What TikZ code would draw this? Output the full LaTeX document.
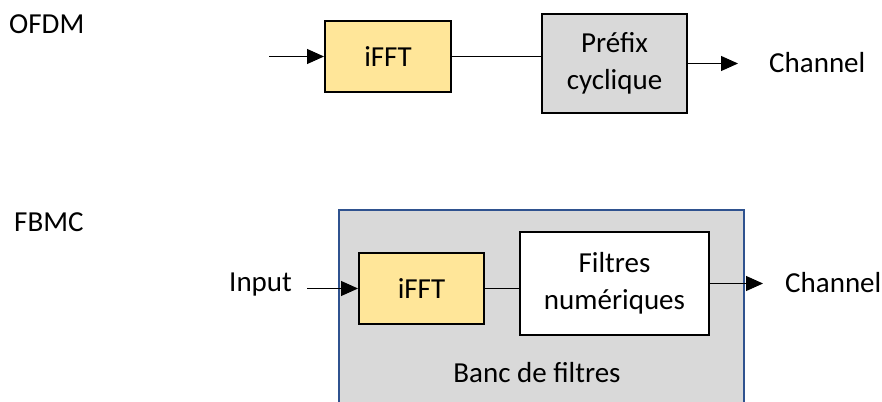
\documentclass[tikz,border=0pt]{standalone}
\usepackage{fontspec}
\setmainfont{Carlito}
\usetikzlibrary{arrows.meta}

\definecolor{blockyellow}{HTML}{FFE699}
\definecolor{blockgray}{HTML}{D9D9D9}
\definecolor{frameblue}{HTML}{2F528F}

\tikzset{
  label text/.style={font=\fontsize{29}{37}\selectfont, inner sep=0pt, align=center},
  block/.style={draw=black, line width=2pt, label text},
  yellowblock/.style={block, fill=blockyellow},
  grayblock/.style={block, fill=blockgray},
  whiteblock/.style={block, fill=white},
  link/.style={line width=1.1pt},
  flow/.style={link, -{Triangle[length=17pt,width=15pt]}},
}

\begin{document}
\begin{tikzpicture}[x=1pt,y=-1pt]
  \clip (0,0) rectangle (882,401);
  \fill[white] (0,0) rectangle (882,401);

  % ---------- OFDM chain ----------
  \node[label text, anchor=west] (ofdm) at (9,24) {OFDM};

  \coordinate (in1) at (269,56.5);
  \node[yellowblock, minimum width=126pt, minimum height=71pt] (i1) at (388,56.5) {iFFT};
  \node[grayblock, minimum width=145pt, minimum height=99pt] (p) at (614.5,63.5) {Préfix\\cyclique};
  \node[label text, anchor=west] (ch1) at (769,63) {Channel};

  \draw[flow] (in1) -- (i1.west);
  \draw[link] (i1.east) -- (i1.east -| p.west);
  \draw[flow, shorten >=31pt] (p.east) -- (p.east -| ch1.west);

  % ---------- FBMC chain ----------
  \node[label text, anchor=west] (fbmc) at (14,222) {FBMC};

  % filter bank frame (open at the bottom edge of the page)
  \node[draw=frameblue, line width=1.5pt, fill=blockgray, minimum width=405pt,
        minimum height=210pt, anchor=north west] (bank) at (338,209) {};
  \node[label text] (banklbl) at (537,373) {Banc de filtres};

  \node[label text, anchor=west] (inp) at (229,285) {Input};
  \node[yellowblock, minimum width=125pt, minimum height=71pt] (i2) at (421.5,288.5) {iFFT};
  \node[whiteblock, minimum width=189pt, minimum height=103pt] (f) at (614.5,283.5) {Filtres\\numériques};
  \node[label text, anchor=west] (ch2) at (785,283) {Channel};

  \draw[flow, shorten <=15pt] (inp.east |- i2.west) -- (i2.west);
  \draw[link] (i2.east) -- (i2.east -| f.west);
  \draw[flow, shorten >=22pt] (f.east) -- (f.east -| ch2.west);
\end{tikzpicture}
\end{document}
